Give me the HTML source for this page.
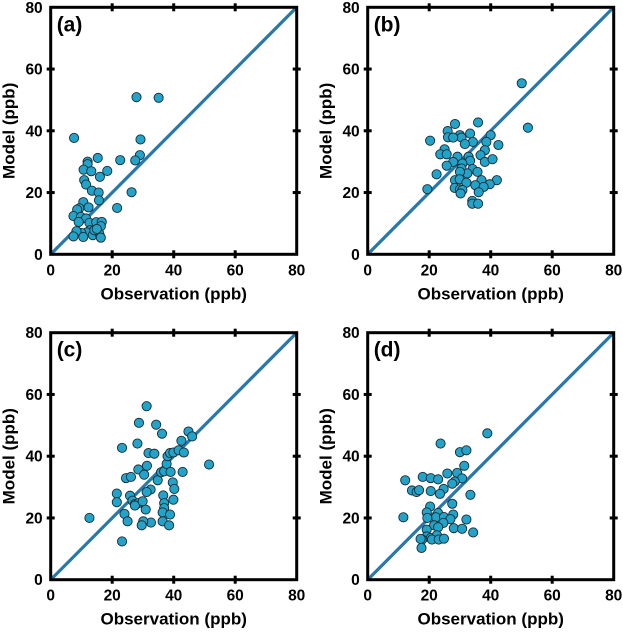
<!DOCTYPE html>
<html><head><meta charset="utf-8"><style>
html,body{margin:0;padding:0;background:#fff;}
svg{display:block;font-family:"Liberation Sans",Arial,sans-serif;font-weight:bold;}
</style></head><body>
<svg id="fig" width="623" height="636" viewBox="0 0 623 636"></svg>
<script>
const ticks = [0, 20, 40, 60, 80];
const tickLabels = ["0", "20", "40", "60", "80"];
const panelNames = ["(a)", "(b)", "(c)", "(d)"];
const obsA = [7.6,27.9,35.1,29.2,29,27.5,22.6,15.3,12,12,10.7,13.2,18.4,16,10.9,11.5,13.4,15.6,26.3,15.7,10.6,21.6,12.3,9.3,8.6,7.4,9.8,11.5,9.1,12.6,14.8,16.6,16.3,12.8,11.7,10,8.4,7.4,10.6,13.7,15.8,16.3,14.2,15];
const modA = [37.7,50.9,50.7,37.2,32.1,30.4,30.5,31.2,30,29.2,27.4,26.9,27,25.1,24,22.6,20.6,20,20.1,17.5,16.9,15,15.2,14.9,14.5,12.4,12.1,11.6,10.5,10.2,10.4,10.5,9.1,7.8,7.1,6.9,7.5,5.8,5.6,6.2,6.7,5.4,7.8,8.2];
const obsB = [50.1,52.1,35.9,28.4,26,30,33.3,26.1,30.5,27.8,40,20.3,34.2,31.6,38.6,42.5,38.1,25,23.6,25.7,36.7,29.2,32.8,33.3,27.8,38.1,40.6,30.8,25.7,30.5,34.1,35.7,22.4,32.4,30,28.4,29.9,37,42,39.7,32.1,35,37.7,28.3,30,19.4,30.8,30.2,36.1,34,34,35.9];
const modB = [55.4,41,42.7,42.2,39.9,38.6,39.1,37.9,37.8,37.8,38.6,36.8,36.4,35.7,36.4,35.4,33.7,34,32.4,32.4,32.1,31.6,31.6,30.3,29.9,29.9,30.8,29.4,28.7,27.8,27.6,26.7,25.9,26.2,26.7,24,24.3,24,24,22.7,23.2,22.4,21.8,21.5,21,21.1,20.8,19.7,20.1,17.3,16.4,16.4];
const obsC = [12.6,23.2,21.5,21.5,23.2,24,25,24.5,26.1,25.8,26.6,27.4,28.5,27.4,28.2,28.7,28.5,31.2,34.3,36.2,31.8,33.7,31.3,30.4,34.8,35.9,36.9,37.7,38,38.8,39.9,41.6,42.5,44.8,46,43.3,42.9,51.5,39,39.7,40.2,39.9,36.6,36.9,36.9,36.4,38.8,36.4,38.5,32.6,30.1,29.6,32.5,31.2,30.9,29.9];
const modC = [20,12.4,27.9,25.1,42.7,21.3,18.9,32.9,33.3,27.2,25.6,24.5,24.8,24,44.1,50.8,35.7,56.2,50.2,47.3,41,40.8,36.9,34,32.2,34.8,35.1,37.5,40,41,41.2,41.9,45,48,46.4,41.2,34.9,37.3,34.9,31.5,29.4,25.9,27.3,24.8,23.2,21.8,21.1,18.9,17.6,18.5,18.9,17.6,29.2,28.4,22.7,25.4];
const obsD = [38.9,23.7,30,32.1,31.4,29.1,25.9,17.9,20.5,22.9,30.7,28.3,27.5,12.2,14.4,15.9,16.7,20.5,24.7,23.5,33.4,27.5,20.3,19.2,22.9,22.2,24.8,27.8,26.9,32.1,19.4,11.6,24.6,21.6,22.9,28,30.7,34.3,19.2,19.2,20.5,22.5,17.7,17.2,20.9,23.1,24.8,17.5];
const modD = [47.4,44.1,41.3,41.9,36.9,34.6,34.4,33.3,32.9,32.5,32.8,31.8,31.1,32.2,28.9,28.4,29,28.7,29.4,27.8,27.5,24.6,23.7,21.8,21.6,20.2,20.3,21.1,19.6,19.5,20,20.2,18.4,17.6,17,16.7,16.5,15.3,16.2,14,13.5,14.4,13,13.2,13,13,13.3,10.3];

const NS = "http://www.w3.org/2000/svg";
const svg = document.getElementById('fig');
function mk(tag, attrs, parent) {
  const e = document.createElementNS(NS, tag);
  for (const k in attrs) e.setAttribute(k, attrs[k]);
  (parent || svg).appendChild(e);
  return e;
}
const panels = [
  {L: 50.7, T: 7.3, obs: obsA, mod: modA},
  {L: 367.7, T: 7.3, obs: obsB, mod: modB},
  {L: 50.7, T: 332.7, obs: obsC, mod: modC},
  {L: 367.7, T: 332.7, obs: obsD, mod: modD}
];
const W = 246, H = 247;
panels.forEach((p, i) => {
  const g = mk('g', {});
  
  
  const sx = v => p.L + v / 80 * W;
  const sy = v => p.T + H - v / 80 * H;
  const line = mk('line', {x1: sx(0), y1: sy(0), x2: sx(80), y2: sy(80), stroke: '#2878ad', 'stroke-width': 3.2}, g);
  
  
  p.obs.forEach((o, j) => {
    const c = mk('circle', {cx: sx(o), cy: sy(p.mod[j]), r: 4.6, fill: '#22a3c9', stroke: '#1a2a33', 'stroke-width': 0.9}, g);
    
    
  });
  const fr = mk('rect', {x: p.L, y: p.T, width: W, height: H, fill: 'none', stroke: '#000', 'stroke-width': 3}, g);
  
  
  ticks.forEach((t, k) => {
    if (k > 0 && k < ticks.length - 1) {
      mk('line', {x1: sx(t), y1: sy(0) - 4, x2: sx(t), y2: sy(0) + 4, stroke: '#000', 'stroke-width': 3}, g);
      mk('line', {x1: sx(t), y1: sy(80) - 4, x2: sx(t), y2: sy(80) + 4, stroke: '#000', 'stroke-width': 3}, g);
      mk('line', {x1: sx(0) - 4, y1: sy(t), x2: sx(0) + 4, y2: sy(t), stroke: '#000', 'stroke-width': 3}, g);
      mk('line', {x1: sx(80) - 4, y1: sy(t), x2: sx(80) + 4, y2: sy(t), stroke: '#000', 'stroke-width': 3}, g);
    }
    const xl = mk('text', {x: sx(t), y: sy(0) + 21, 'text-anchor': 'middle', 'font-size': 15.5}, g);
    xl.textContent = tickLabels[k];
    
    
    const yl = mk('text', {x: p.L - 8, y: sy(t) + 5.5, 'text-anchor': 'end', 'font-size': 15.5}, g);
    yl.textContent = tickLabels[k];
    
    
  });
  const xt = mk('text', {x: p.L + W / 2, y: p.T + H + 45, 'text-anchor': 'middle', 'font-size': 17}, g);
  xt.textContent = 'Observation (ppb)';
  
  
  const yx = p.L - 36, yy = p.T + H / 2;
  const yt = mk('text', {x: yx, y: yy, 'text-anchor': 'middle', 'font-size': 17, transform: 'rotate(-90 ' + yx + ' ' + yy + ')'}, g);
  yt.textContent = 'Model (ppb)';
  
  
  const pl = mk('text', {x: p.L + 6, y: p.T + 24, 'font-size': 21}, g);
  pl.textContent = panelNames[i];
  
  
});
</script>
</body></html>
